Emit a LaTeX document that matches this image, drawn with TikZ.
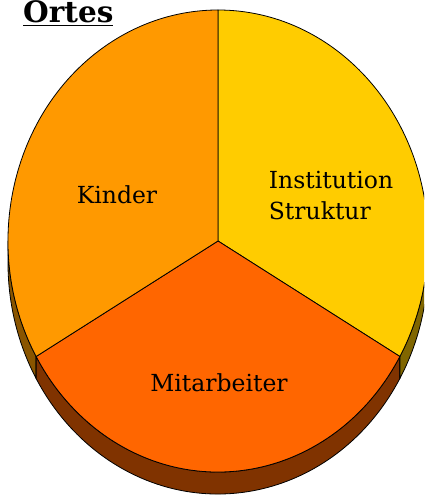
\documentclass[tikz,border=0pt]{standalone}
\usepackage{fontspec}
\setmainfont{DejaVu Serif}
\definecolor{yel}{HTML}{FFCC00}
\definecolor{yelside}{HTML}{806600}
\definecolor{ora}{HTML}{FF9900}
\definecolor{oraside}{HTML}{8A5500}
\definecolor{red}{HTML}{FF6600}
\definecolor{redside}{HTML}{803300}
\begin{document}
\begin{tikzpicture}[x=1pt,y=1pt,
  slice/.style={draw=black,line width=0.8pt,line join=round},
  lbl/.style={font=\fontsize{23.5}{31}\selectfont,inner sep=0pt}]
\useasboundingbox (0,0) rectangle (424,496);
\clip (0,0) rectangle (424,496);
% sides
\filldraw[slice,fill=oraside] (8,255) arc[start angle=180,end angle=210,x radius=210pt,y radius=231pt]
  -- ++(0,-22) arc[start angle=210,end angle=180,x radius=210pt,y radius=231pt] -- cycle;
\filldraw[slice,fill=redside] (36.13,139.5) arc[start angle=210,end angle=330,x radius=210pt,y radius=231pt]
  -- ++(0,-22) arc[start angle=330,end angle=210,x radius=210pt,y radius=231pt] -- cycle;
\filldraw[slice,fill=yelside] (399.87,139.5) arc[start angle=330,end angle=360,x radius=210pt,y radius=231pt]
  -- ++(0,-22) arc[start angle=360,end angle=330,x radius=210pt,y radius=231pt] -- cycle;
% tops
\coordinate (c) at (218,255);
\filldraw[slice,fill=yel] (c) -- (218,486) arc[start angle=90,end angle=-30,x radius=210pt,y radius=231pt] -- cycle;
\filldraw[slice,fill=red] (c) -- (399.87,139.5) arc[start angle=-30,end angle=-150,x radius=210pt,y radius=231pt] -- cycle;
\filldraw[slice,fill=ora] (c) -- (36.13,139.5) arc[start angle=210,end angle=90,x radius=210pt,y radius=231pt] -- cycle;
% labels
\node[lbl] (kinder) at (117,301) {Kinder};
\node[lbl,align=left] (inst) at (331,300) {Institution\\Struktur};
\node[lbl] (mitar) at (219,113) {Mitarbeiter};
\node[anchor=base west,inner sep=0pt,font=\fontsize{29.5}{32}\selectfont\bfseries] (title) at (23,473) {\underline{Ortes}};
\end{tikzpicture}
\end{document}
